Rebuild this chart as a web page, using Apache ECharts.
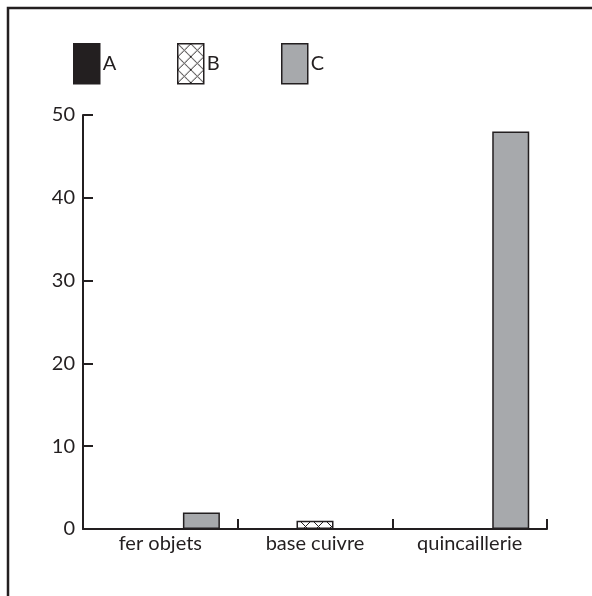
<!DOCTYPE html>
<html lang="fr">

<head>
    <meta charset="UTF-8">
    <title>bars</title>
    <style>
        html, body { margin: 0; padding: 0; background: #fff; }
        #chart { width: 592px; height: 596px; }
    </style>
    <script src="https://cdn.jsdelivr.net/npm/echarts@6/dist/echarts.min.js"></script>
</head>

<body>
    <div id="chart"></div>
    <script>
        var categories = ['fer objets', 'base cuivre', 'quincaillerie'];
        var seriesNames = ['A', 'B', 'C'];
        var valuesA = [0, 0, 0];
        var valuesB = [0, 1, 0];
        var valuesC = [2, 0, 48];
        var yTicks = [0, 10, 20, 30, 40, 50];

        var ink = '#231f20';
        var font = 'Lato';

        // crosshatch tile for series B
        var tile = document.createElement('canvas');
        tile.width = tile.height = 13;
        var t = tile.getContext('2d');
        t.fillStyle = '#fff';
        t.fillRect(0, 0, 13, 13);
        t.strokeStyle = ink;
        t.lineWidth = 1;
        t.beginPath();
        t.moveTo(0, 0); t.lineTo(13, 13);
        t.moveTo(13, 0); t.lineTo(0, 13);
        t.stroke();

        var fills = ['#231f20', { image: tile, repeat: 'repeat' }, '#a7a9ac'];
        var data = [valuesA, valuesB, valuesC];
        var legendLeft = [73, 177, 281];

        var myChart = echarts.init(document.getElementById('chart'));

        var option = {
            backgroundColor: '#fff',
            animation: false,
            textStyle: { fontFamily: font, color: ink },
            graphic: [{
                type: 'rect',
                shape: { x: 8, y: 8, width: 1000, height: 1000 },
                style: { fill: null, stroke: ink, lineWidth: 2.5 },
                silent: true
            }],
            legend: seriesNames.map(function (n, i) {
                return {
                    data: [n],
                    left: legendLeft[i],
                    top: 43,
                    icon: 'rect',
                    itemWidth: 26,
                    itemHeight: 40,
                    itemGap: 0,
                    padding: 0,
                    textStyle: { fontFamily: font, fontSize: 20, color: ink, padding: [0, 0, 0, -2] },
                    itemStyle: { borderColor: ink, borderWidth: 1.5 }
                };
            }),
            grid: { left: 83, right: 45, top: 115, bottom: 67, containLabel: false },
            xAxis: {
                type: 'category',
                data: categories,
                axisLine: { show: true, lineStyle: { color: ink, width: 2 } },
                axisTick: { show: true, inside: true, length: 10, lineStyle: { color: ink, width: 2 } },
                axisLabel: { margin: 5, fontSize: 20, fontFamily: font, color: ink }
            },
            yAxis: {
                type: 'value',
                min: yTicks[0],
                max: yTicks[yTicks.length - 1],
                interval: 10,
                splitLine: { show: false },
                axisLine: { show: true, lineStyle: { color: ink, width: 2 } },
                axisTick: { show: true, inside: true, length: 10, lineStyle: { color: ink, width: 2 } },
                axisLabel: { margin: 8, fontSize: 20, fontFamily: font, color: ink }
            },
            series: seriesNames.map(function (n, i) {
                return {
                    name: n,
                    type: 'bar',
                    barWidth: 37,
                    barGap: '11%',
                    itemStyle: { color: fills[i], borderColor: ink, borderWidth: 1.5 },
                    data: data[i]
                };
            })
        };
        myChart.setOption(option);
    </script>
</body>

</html>
